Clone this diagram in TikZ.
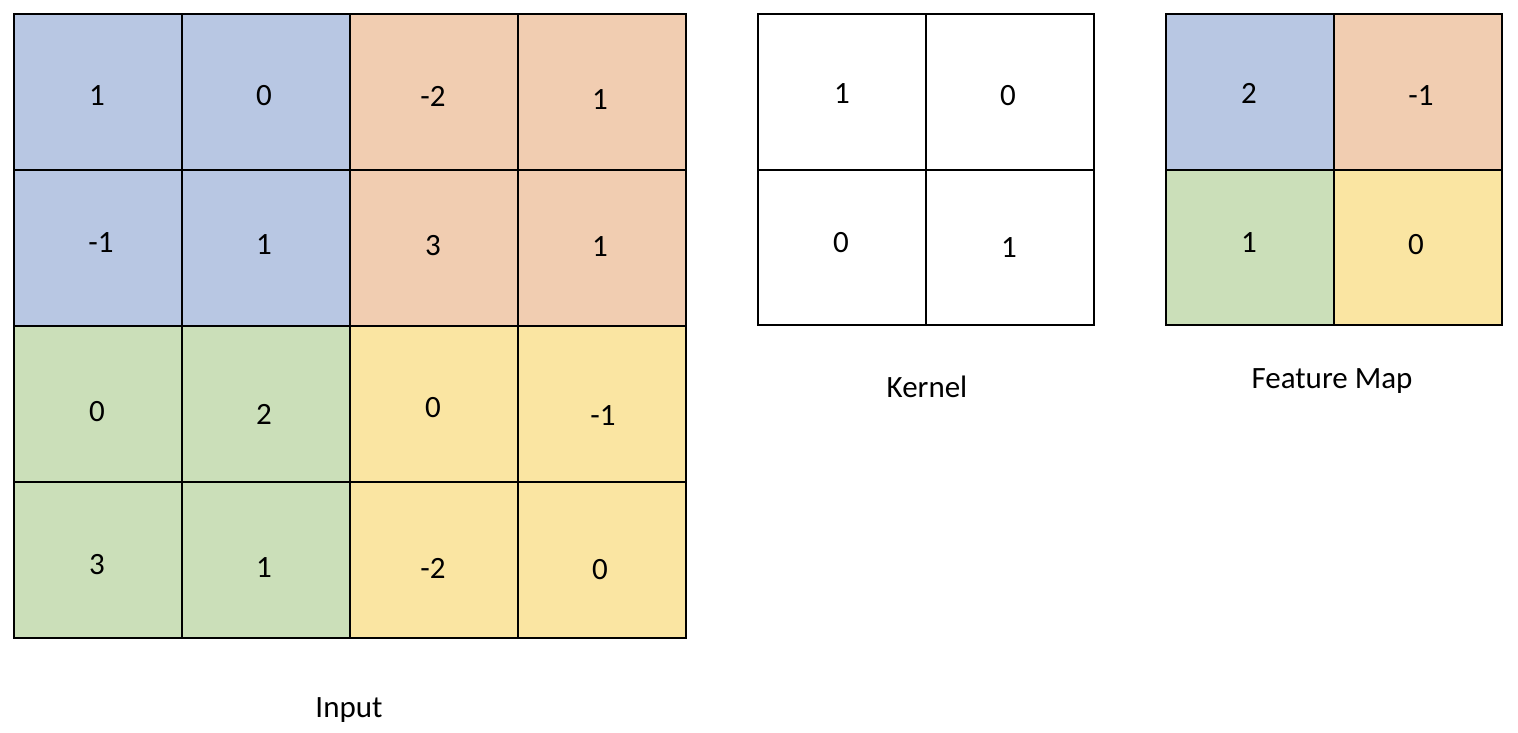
\documentclass[tikz,border=0pt]{standalone}
\usepackage{fontspec}
\setmainfont{Carlito}
\definecolor{cblue}{HTML}{B8C7E3}
\definecolor{corange}{HTML}{F1CDB1}
\definecolor{cgreen}{HTML}{CBDFB9}
\definecolor{cyellow}{HTML}{FAE5A2}
\begin{document}
\begin{tikzpicture}[x=1pt,y=-1pt,
  cellbox/.style={draw=black,line width=2pt,minimum width=168pt,minimum height=156pt,inner sep=0pt,outer sep=0pt},
  num/.style={font=\fontsize{31}{36}\selectfont,inner sep=0pt,anchor=center},
  lbl/.style={font=\fontsize{31}{36}\selectfont,inner sep=0pt,anchor=base}]
\useasboundingbox (0,0) rectangle (1518,733);
% Input grid
\node[cellbox,fill=cblue]   (i11) at (98,92) {};
\node[cellbox,fill=cblue]   (i12) at (266,92) {};
\node[cellbox,fill=corange] (i13) at (434,92) {};
\node[cellbox,fill=corange] (i14) at (602,92) {};
\node[cellbox,fill=cblue]   (i21) at (98,248) {};
\node[cellbox,fill=cblue]   (i22) at (266,248) {};
\node[cellbox,fill=corange] (i23) at (434,248) {};
\node[cellbox,fill=corange] (i24) at (602,248) {};
\node[cellbox,fill=cgreen]  (i31) at (98,404) {};
\node[cellbox,fill=cgreen]  (i32) at (266,404) {};
\node[cellbox,fill=cyellow] (i33) at (434,404) {};
\node[cellbox,fill=cyellow] (i34) at (602,404) {};
\node[cellbox,fill=cgreen]  (i41) at (98,560) {};
\node[cellbox,fill=cgreen]  (i42) at (266,560) {};
\node[cellbox,fill=cyellow] (i43) at (434,560) {};
\node[cellbox,fill=cyellow] (i44) at (602,560) {};
\node[num] (t11) at (97,96) {1};
\node[num] (t12) at (264,96) {0};
\node[num] (t13) at (433,96) {-2};
\node[num] (t14) at (600,100) {1};
\node[num] (t21) at (101,243) {-1};
\node[num] (t22) at (264,245) {1};
\node[num] (t23) at (433,246) {3};
\node[num] (t24) at (600,247) {1};
\node[num] (t31) at (97,412) {0};
\node[num] (t32) at (264,414) {2};
\node[num] (t33) at (433,408) {0};
\node[num] (t34) at (603,416) {-1};
\node[num] (t41) at (97,565) {3};
\node[num] (t42) at (264,568) {1};
\node[num] (t43) at (433,568) {-2};
\node[num] (t44) at (600,570) {0};
\node[lbl] (inlabel) at (349,717) {Input};
% Kernel
\node[cellbox,fill=white,minimum width=168pt,minimum height=155.5pt] (k11) at (842,92) {};
\node[cellbox,fill=white,minimum width=168pt,minimum height=155.5pt] (k12) at (1010,92) {};
\node[cellbox,fill=white,minimum width=168pt,minimum height=155.5pt] (k21) at (842,247.5) {};
\node[cellbox,fill=white,minimum width=168pt,minimum height=155.5pt] (k22) at (1010,247.5) {};
\node[num] (kt11) at (842,94) {1};
\node[num] (kt12) at (1008,96) {0};
\node[num] (kt21) at (841,243) {0};
\node[num] (kt22) at (1009,248) {1};
\node[lbl] (klabel) at (927,397) {Kernel};
% Feature map
\node[cellbox,fill=cblue,minimum width=168pt,minimum height=155.5pt]   (f11) at (1250,92) {};
\node[cellbox,fill=corange,minimum width=168pt,minimum height=155.5pt] (f12) at (1418,92) {};
\node[cellbox,fill=cgreen,minimum width=168pt,minimum height=155.5pt]  (f21) at (1250,247.5) {};
\node[cellbox,fill=cyellow,minimum width=168pt,minimum height=155.5pt] (f22) at (1418,247.5) {};
\node[num] (ft11) at (1249,93) {2};
\node[num] (ft12) at (1421,96) {-1};
\node[num] (ft21) at (1249,243) {1};
\node[num] (ft22) at (1416,245) {0};
\node[lbl] (flabel) at (1332,388) {Feature Map};
\end{tikzpicture}
\end{document}
